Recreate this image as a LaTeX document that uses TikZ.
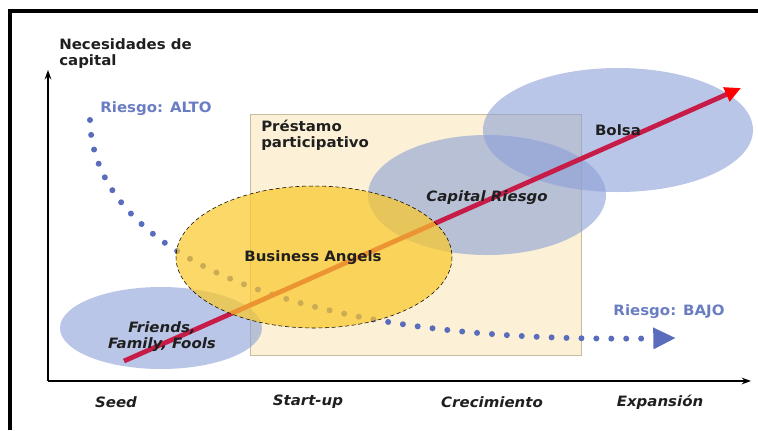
\documentclass[tikz,border=0pt]{standalone}
\usepackage{fontspec}
\setmainfont{DejaVu Sans}[FakeStretch=1.05]
\usetikzlibrary{arrows.meta}

\definecolor{blobBlue}{RGB}{140,160,215}
\definecolor{blobYellow}{RGB}{250,200,40}
\definecolor{riskBlue}{RGB}{90,108,188}
\definecolor{lblBlue}{RGB}{105,125,195}
\definecolor{growthRed}{RGB}{200,28,72}
\definecolor{boxCream}{RGB}{252,240,214}
\definecolor{boxEdge}{RGB}{200,188,155}

\tikzset{
  lbl/.style={inner sep=0.75pt, font=\fontsize{10.7}{12}\selectfont\bfseries, text=black!88},
  ilbl/.style={lbl, font=\fontsize{10.7}{12}\selectfont\bfseries\itshape},
  risklbl/.style={lbl, text=lblBlue},
  blueblob/.style={fill=blobBlue, fill opacity=0.6},
  axis/.style={line width=1.2pt, -{Stealth[length=7pt,width=5pt]}},
}

\begin{document}
\begin{tikzpicture}[x=0.75pt,y=0.75pt,yscale=-1,xscale=1]
\useasboundingbox (0,0) rectangle (758,430);

%Frame
\draw[line width=2.4pt] (10,430) -- (10,11) -- (758,11);

%Shape: Rectangle
\draw[boxEdge, fill=boxCream] (250,114) rectangle (581,355);
%Shape: Ellipse
\fill[blueblob] (161,328) ellipse [x radius=101, y radius=41];

%Axes
\coordinate (origin) at (48,381);
\coordinate (yTop) at (48,70);
\coordinate (xEnd) at (751,381);
\draw[axis] (origin) -- (yTop);
\draw[axis] (origin) -- (xEnd);

%Curve Lines
\coordinate (riskHi) at (90,120);
\coordinate (riskLo) at (676,338);
\draw[riskBlue, line width=4.5pt, line cap=round, dash pattern=on 0pt off 11.2pt,
      -{Triangle[length=17pt,width=15pt]}]
  (riskHi) .. controls (92,235) and (250,345) .. (riskLo);

%Shape: Ellipse
\fill[blueblob] (487,195) ellipse [x radius=119, y radius=60];
%Shape: Ellipse
\fill[blueblob] (618,130) ellipse [x radius=135, y radius=62];

%Straight Lines
\coordinate (growthStart) at (124,361);
\coordinate (growthEnd) at (741,88);
\draw[growthRed, line width=3.6pt, -{Triangle[length=12pt,width=11pt,color=red]}]
  (growthStart) -- (growthEnd);

%Shape: Ellipse
\filldraw[fill=blobYellow, fill opacity=0.7, densely dashed, thin]
  (314,257) ellipse [x radius=138, y radius=71];

% Text Node
\node[lbl, anchor=north west, align=left] (capNeeds) at (58,37) {Necesidades de\\capital};
% Text Node
\node[risklbl] (altoLbl) at (156,109) {Riesgo: ALTO};
% Text Node
\node[lbl, anchor=north west, align=left] (prestamo) at (260,119) {Préstamo\\participativo};
% Text Node
\node[lbl] (bolsaLbl) at (618,130) {Bolsa};
% Text Node
\node[ilbl] (capLbl) at (487,198) {Capital Riesgo};
% Text Node
\node[lbl] (angelsLbl) at (313,258) {Business Angels};
% Text Node
\node[ilbl, align=center] (fffLbl) at (162,337) {Friends,\\Family, Fools};
% Text Node
\node[risklbl] (bajoLbl) at (669,312) {Riesgo: BAJO};
% Text Node
\node[ilbl] (seedLbl) at (116,402) {Seed};
% Text Node
\node[ilbl] (startLbl) at (308,402) {Start-up};
% Text Node
\node[ilbl] (crecLbl) at (492,402) {Crecimiento};
% Text Node
\node[ilbl] (expLbl) at (660,402) {Expansión};
\end{tikzpicture}
\end{document}
